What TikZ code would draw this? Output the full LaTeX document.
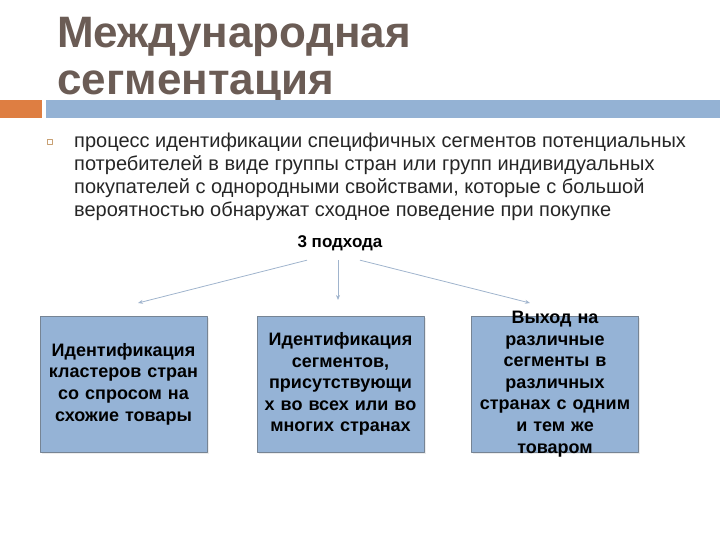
\documentclass[tikz,border=0pt]{standalone}
\usepackage{fontspec}
\setmainfont{Liberation Sans}
\usetikzlibrary{arrows.meta,shadows}
\definecolor{titlebrown}{RGB}{107,92,85}
\definecolor{barorange}{RGB}{222,126,66}
\definecolor{barblue}{RGB}{148,178,212}
\definecolor{boxfill}{RGB}{149,179,214}
\definecolor{boxline}{RGB}{118,132,148}
\definecolor{linkblue}{RGB}{160,180,205}
\definecolor{bullettan}{RGB}{200,160,115}
\begin{document}
\begin{tikzpicture}[x=1pt, y=-1pt, line join=round,
	approach/.style={draw=boxline, line width=0.8pt, fill=boxfill, minimum width=167pt, minimum height=136pt, inner sep=0pt,
		drop shadow={opacity=0.15, shadow xshift=1.5pt, shadow yshift=-1.5pt}},
	boxtext/.style={align=center, text width=185pt, inner sep=0pt, font=\fontsize{18}{21.6}\selectfont\bfseries},
	link/.style={draw=linkblue, line width=0.8pt, -{Stealth[length=5pt, width=4pt]}}]
		\useasboundingbox (0,0) rectangle (720,540);
		% title and bars
		\node[anchor=base west, inner sep=0pt, text=titlebrown, align=left,
			font=\fontsize{44}{47}\selectfont\bfseries] (title) at (57,95) {Международная\\сегментация};
		\fill[barorange] (0,100) rectangle (42,118);
		\fill[barblue] (46,100) rectangle (720,118);
		% bullet text
		\draw[bullettan, line width=0.6pt] (47.5,139.5) rectangle (52.5,144.5);
		\node[anchor=base west, inner sep=0pt, align=left, text=black!85,
			font=\fontsize{20}{23}\selectfont] (text) at (74,216)
			{процесс идентификации специфичных сегментов потенциальных\\
			потребителей в виде группы стран или групп индивидуальных\\
			покупателей с однородными свойствами, которые с большой\\
			вероятностью обнаружат сходное поведение при покупке};
		\node[font=\fontsize{17}{20}\selectfont\bfseries] (ways) at (340,243) {3 подхода};
		% boxes
		\path
			(123.5,384) node[approach] (A) {}
			(340.5,384) node[approach] (B) {}
			(555,384) node[approach] (C) {};
		\node[boxtext] (At) at (A) {Идентификация\\кластеров стран\\со спросом на\\схожие товары};
		\node[boxtext] (Bt) at (B) {Идентификация\\сегментов,\\присутствующи\\х во всех или во\\многих странах};
		\node[boxtext] (Ct) at (C) {Выход на\\различные\\сегменты в\\различных\\странах с одним\\и тем же\\товаром};
		% arrows
		\path
			(ways.south)+(-33,6) coordinate (a0)
			(ways.south)+(-2,6) coordinate (b0)
			(ways.south)+(20,6) coordinate (c0)
			(138,303) coordinate (a1)
			(338,300) coordinate (b1)
			(530,303) coordinate (c1);
		\foreach \d in {a, b, c}
			\draw[link] (\d0)--(\d1);
		\end{tikzpicture}
\end{document}
